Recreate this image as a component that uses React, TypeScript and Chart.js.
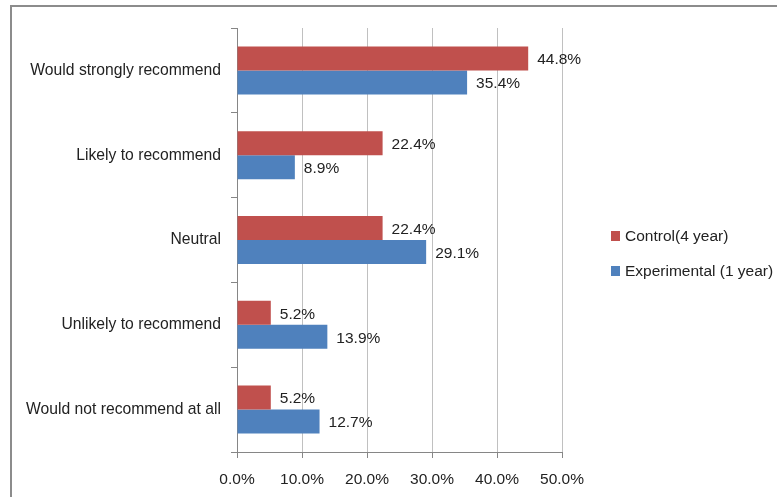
import React, { useEffect, useRef } from "react";
import { Chart, registerables } from "chart.js";

Chart.register(...registerables);

const categories = [
  "Would strongly recommend",
  "Likely to recommend",
  "Neutral",
  "Unlikely to recommend",
  "Would not recommend at all",
];
const seriesNames = ["Control(4 year)", "Experimental (1 year)"];
const controlValues = [44.8, 22.4, 22.4, 5.2, 5.2];
const experimentalValues = [35.4, 8.9, 29.1, 13.9, 12.7];
const xMin = 0;
const xMax = 50;
const xStep = 10;

const RED = "#C0504D";
const BLUE = "#4F81BD";
const TEXT = "#222222";
const AXIS = "#868686";
const GRID = "#C0C0C0";
const LABEL_FONT = "Liberation Sans, Arial, sans-serif";
const NUM_FONT = "'Liberation Sans Narrow', 'Arial Narrow', 'Liberation Sans', sans-serif";

const dataLabelPlugin = {
  id: "dataLabels",
  afterDatasetsDraw(chart: any) {
    const ctx = chart.ctx;
    ctx.save();
    ctx.font = `15.5px ${NUM_FONT}`;
    ctx.fillStyle = TEXT;
    ctx.textAlign = "left";
    ctx.textBaseline = "middle";
    chart.data.datasets.forEach((ds: any, i: number) => {
      const meta = chart.getDatasetMeta(i);
      meta.data.forEach((bar: any, j: number) => {
        ctx.fillText(Number(ds.data[j]).toFixed(1) + "%", bar.x + 9, bar.y + 1.5);
      });
    });
    ctx.restore();
  },
};

const legendPlugin = {
  id: "customLegend",
  afterDraw(chart: any) {
    const ctx = chart.ctx;
    ctx.save();
    ctx.font = `15.5px ${LABEL_FONT}`;
    ctx.textAlign = "left";
    ctx.textBaseline = "middle";
    const x = 611;
    const ys = [236, 271];
    chart.data.datasets.forEach((ds: any, i: number) => {
      ctx.fillStyle = ds.backgroundColor;
      ctx.fillRect(x, ys[i] - 5, 9, 10);
      ctx.fillStyle = TEXT;
      ctx.fillText(ds.label, x + 14, ys[i] + 1);
    });
    ctx.restore();
  },
};

export default function App() {
  const canvasRef = useRef<HTMLCanvasElement | null>(null);

  useEffect(() => {
    if (!canvasRef.current) return;
    const chart = new Chart(canvasRef.current, {
      type: "bar",
      data: {
        labels: categories,
        datasets: [
          {
            label: seriesNames[0],
            data: controlValues,
            backgroundColor: RED,
            barPercentage: 1,
            categoryPercentage: 0.566,
          },
          {
            label: seriesNames[1],
            data: experimentalValues,
            backgroundColor: BLUE,
            barPercentage: 1,
            categoryPercentage: 0.566,
          },
        ],
      },
      options: {
        indexAxis: "y",
        responsive: false,
        animation: false,
        layout: { padding: { left: 0, top: 28, right: 215, bottom: 0 } },
        plugins: {
          legend: { display: false },
          tooltip: { enabled: false },
        },
        scales: {
          x: {
            type: "linear",
            min: xMin,
            max: xMax,
            ticks: {
              stepSize: xStep,
              callback: (v: any) => Number(v).toFixed(1) + "%",
              font: { family: NUM_FONT, size: 15.5 },
              color: TEXT,
              padding: 12,
            },
            grid: {
              color: GRID,
              tickColor: AXIS,
              tickLength: 6,
            },
            border: { color: AXIS },
            afterFit: (s: any) => {
              s.height = 45;
            },
          },
          y: {
            type: "category",
            ticks: {
              font: { family: LABEL_FONT, size: 15.7 },
              color: TEXT,
              padding: 10,
            },
            grid: {
              offset: true,
              drawOnChartArea: false,
              tickColor: AXIS,
              tickLength: 6,
            },
            border: { color: AXIS },
            afterFit: (s: any) => {
              s.width = 237;
            },
          },
        },
      },
      plugins: [dataLabelPlugin, legendPlugin],
    } as any);
    return () => chart.destroy();
  }, []);

  return (
    <div style={{ position: "absolute", left: 0, top: 0, width: 777, height: 497, background: "#fff", overflow: "hidden" }}>
      <div
        style={{
          position: "absolute",
          left: 10,
          top: 5,
          width: 800,
          height: 600,
          borderLeft: "2px solid #8C8C8C",
          borderTop: "2px solid #8C8C8C",
        }}
      />
      <canvas ref={canvasRef} width={777} height={497} style={{ position: "absolute", left: 0, top: 0 }} />
    </div>
  );
}
